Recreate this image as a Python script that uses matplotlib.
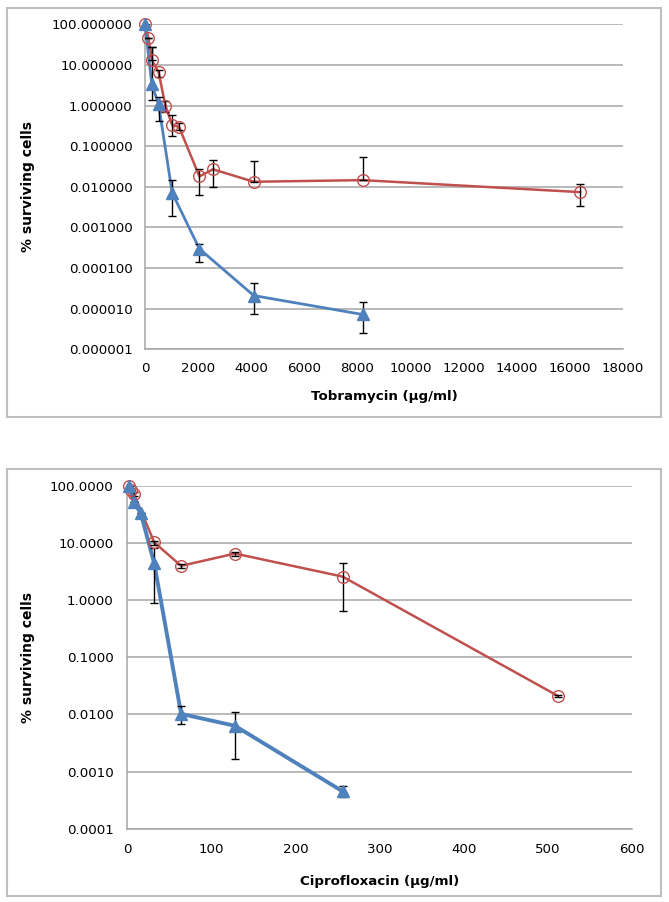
import numpy as np
import matplotlib
matplotlib.use("Agg")
import matplotlib.pyplot as plt
from matplotlib.patches import Rectangle
from matplotlib.ticker import FixedLocator, FuncFormatter, NullLocator

# --- Tobramycin panel ---
tob_red_x = [0, 128, 256, 512, 768, 1024, 1280, 2048, 2560, 4096, 8192, 16384]
tob_red_y = [100, 47, 13.2, 6.6, 1.0, 0.33, 0.30, 0.018, 0.027, 0.0133, 0.0146, 0.0074]
tob_red_lo = [100, 47, 13.2, 5.0, 0.70, 0.18, 0.25, 0.0063, 0.010, 0.0133, 0.0146, 0.0033]
tob_red_hi = [100, 47, 28, 7.5, 1.30, 0.59, 0.38, 0.0275, 0.045, 0.044, 0.053, 0.0117]

tob_blue_x = [0, 256, 512, 1024, 2048, 4096, 8192]
tob_blue_y = [100, 3.3, 1.07, 0.0071, 0.000297, 2.1e-5, 7.2e-6]
tob_blue_lo = [100, 1.37, 0.41, 0.0019, 0.000138, 7.2e-6, 2.5e-6]
tob_blue_hi = [100, 28, 1.65, 0.0147, 0.0004, 4.2e-5, 1.47e-5]

tob_yticks = [1e-6, 1e-5, 1e-4, 1e-3, 1e-2, 1e-1, 1, 10, 100]
tob_xticks = [0, 2000, 4000, 6000, 8000, 10000, 12000, 14000, 16000, 18000]

# --- Ciprofloxacin panel ---
cip_red_x = [2, 4, 8, 32, 64, 128, 256, 512]
cip_red_y = [100, 85, 71, 10.2, 3.96, 6.5, 2.57, 0.021]
cip_red_lo = [100, 85, 65, 9.0, 3.7, 6.0, 0.65, 0.020]
cip_red_hi = [100, 85, 78, 11.0, 4.2, 7.0, 4.4, 0.022]

cip_blue_x = [2, 8, 16, 32, 64, 128, 256]
cip_blue_y = [100, 51, 33, 4.4, 0.0102, 0.0063, 0.00045]
cip_blue_lo = [100, 51, 33, 0.88, 0.0068, 0.00165, 0.000354]
cip_blue_hi = [100, 51, 33, 8.1, 0.0138, 0.0112, 0.00056]

cip_yticks = [1e-4, 1e-3, 1e-2, 1e-1, 1, 10, 100]
cip_xticks = [0, 100, 200, 300, 400, 500, 600]

RED = "#C0504D"
BLUE = "#4F81BD"
GRID = "#A6A6A6"

plt.rcParams["font.family"] = ["DejaVu Sans"]


def add_series(ax, x, y, lo, hi, color, marker, lw, ms, open_marker):
    """Line + markers + black error bars for one series."""
    y = np.array(y)
    err = [y - np.array(lo), np.array(hi) - y]
    ax.plot(x, y, color=color, lw=lw, zorder=3, clip_on=False)
    ax.errorbar(x, y, yerr=err, fmt="none", ecolor="black", elinewidth=1.0,
                capsize=3, capthick=1.0, zorder=4)
    if open_marker:
        ax.plot(x, y, linestyle="none", marker=marker, ms=ms, mfc="none",
                mec=color, mew=1.0, zorder=5, clip_on=False)
    else:
        ax.plot(x, y, linestyle="none", marker=marker, ms=ms, mfc=color,
                mec=color, zorder=5, clip_on=False)


def style_axis(ax, xticks, yticks, fmt, xlabel, ylab_x, xlab_y, pad_y, pad_x):
    ax.set_yscale("log")
    ax.set_xlim(xticks[0], xticks[-1])
    ax.set_ylim(yticks[0], yticks[-1])
    ax.yaxis.set_major_locator(FixedLocator(yticks))
    ax.yaxis.set_minor_locator(NullLocator())
    ax.yaxis.set_major_formatter(FuncFormatter(lambda v, p: fmt % v))
    ax.set_xticks(xticks)
    ax.grid(axis="y", color=GRID, lw=1.1)
    ax.set_axisbelow(True)
    for side in ["top", "right"]:
        ax.spines[side].set_visible(False)
    for side in ["left", "bottom"]:
        ax.spines[side].set_color(GRID)
        ax.spines[side].set_linewidth(1.1)
    ax.tick_params(axis="y", length=0, pad=pad_y, labelsize=9.6)
    ax.tick_params(axis="x", length=0, pad=pad_x, labelsize=9.6)
    ax.set_ylabel("% surviving cells", fontsize=10, fontweight="bold")
    ax.set_xlabel(xlabel, fontsize=9.6, fontweight="bold")
    ax.yaxis.set_label_coords(ylab_x, 0.5)
    ax.xaxis.set_label_coords(0.5, xlab_y)


def main():
    W, H = 669, 902
    fig = plt.figure(figsize=(W / 100, H / 100), dpi=100)

    # chart frames
    for (x0, y0, x1, y1) in [(7, 8, 661, 417), (7, 469, 661, 896)]:
        fig.patches.append(Rectangle((x0 / W, 1 - y1 / H), (x1 - x0) / W, (y1 - y0) / H,
                                     transform=fig.transFigure, fill=False,
                                     edgecolor="#BFBFBF", lw=1.5))

    # top: Tobramycin
    ax1 = fig.add_axes([145 / W, 1 - 349.3 / H, (623 - 145) / W, (349.3 - 24.3) / H])
    add_series(ax1, tob_red_x, tob_red_y, tob_red_lo, tob_red_hi, RED, "o", 1.8, 8.4, True)
    add_series(ax1, tob_blue_x, tob_blue_y, tob_blue_lo, tob_blue_hi, BLUE, "^", 2.0, 8.5, False)
    style_axis(ax1, tob_xticks, tob_yticks, "%.6f", "Tobramycin (µg/ml)", -0.23, -0.125, 9, 9)

    # bottom: Ciprofloxacin
    ax2 = fig.add_axes([127.3 / W, 1 - 828.7 / H, (632 - 127.3) / W, (828.7 - 485.7) / H])
    add_series(ax2, cip_red_x, cip_red_y, cip_red_lo, cip_red_hi, RED, "o", 1.8, 8.4, True)
    add_series(ax2, cip_blue_x, cip_blue_y, cip_blue_lo, cip_blue_hi, BLUE, "^", 2.8, 8.5, False)
    style_axis(ax2, cip_xticks, cip_yticks, "%.4f", "Ciprofloxacin (µg/ml)", -0.183, -0.135, 10, 10)

    fig.savefig("out.png", dpi=100)


if __name__ == "__main__":
    main()
